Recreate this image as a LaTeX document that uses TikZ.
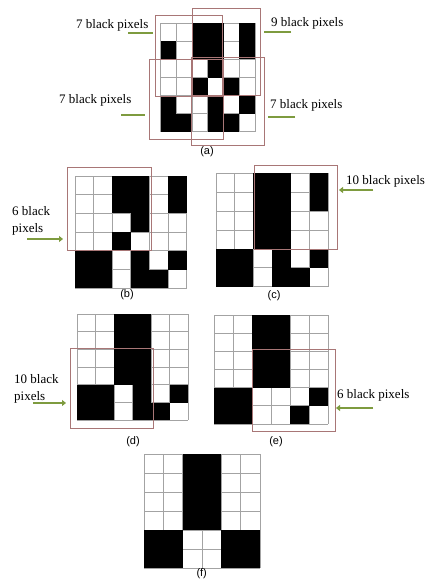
\documentclass[tikz,border=0pt]{standalone}
\usepackage{fontspec}
\setmainfont{Liberation Serif}
\newfontfamily\capfont{Liberation Sans}
\usetikzlibrary{arrows.meta}
\definecolor{gridgray}{HTML}{A3A3A3}
\definecolor{winred}{HTML}{A87676}
\definecolor{arrgreen}{HTML}{7E9B3F}
\newcommand\pixgrid[5]{%
  \foreach \i in {0,...,6}{
    \draw[gridline] ({#1+\i*#3},{#2}) -- ({#1+\i*#3},{#2+6*#4});
    \draw[gridline] ({#1},{#2+\i*#4}) -- ({#1+6*#3},{#2+\i*#4});
  }
  \foreach \c/\r in {#5}{
    \fill[black] ({#1+\c*#3},{#2+\r*#4}) rectangle ({#1+\c*#3+#3},{#2+\r*#4+#4});
  }
}
\begin{document}
\begin{tikzpicture}[x=1pt,y=-1pt,
  gridline/.style={draw=gridgray,line width=0.8pt},
  window/.style={draw=winred,line width=0.7pt},
  lbl/.style={font=\fontsize{13}{16.7}\selectfont,inner sep=0pt,anchor=base west},
  lbltwo/.style={font=\fontsize{13}{16.7}\selectfont,inner sep=0pt,anchor=north west,align=left},
  captxt/.style={font=\capfont\fontsize{11}{13}\selectfont,inner sep=0pt},
  bar/.style={draw=arrgreen,line width=2.6pt},
  pointer/.style={draw=arrgreen,line width=2.6pt,-{Triangle[length=4pt,width=6pt]}}]
\useasboundingbox[fill=white] (0,0) rectangle (425,580);

% ---- (a)
\pixgrid{160.5}{23.3}{15.75}{18.07}{2/0,3/0,5/0,0/1,2/1,3/1,5/1,3/2,2/3,4/3,0/4,3/4,5/4,0/5,1/5,3/5,4/5}
\draw[window] (155,15) rectangle (222.7,96.7);
\draw[window] (192.7,8.3) rectangle (260,95);
\draw[window] (149.3,59.3) rectangle (223.3,139.3);
\draw[window] (191.7,57.3) rectangle (264,145.7);
\node[captxt] (capa) at (207,152) {(a)};
\node[lbl] (la1) at (76,28.3) {7 black pixels};
\node[lbl] (la2) at (59,104) {7 black pixels};
\node[lbl] (la3) at (271,26.7) {9 black pixels};
\node[lbl] (la4) at (270,108.3) {7 black pixels};
\coordinate (a1s) at (128,33); \coordinate (a1e) at (153,33);
\coordinate (a2s) at (121,115); \coordinate (a2e) at (145,115);
\coordinate (a3s) at (291,32); \coordinate (a3e) at (264,32);
\coordinate (a4s) at (295,117); \coordinate (a4e) at (268,117);
\draw[bar] (a1s) -- (a1e);
\draw[bar] (a2s) -- (a2e);
\draw[bar] (a3s) -- (a3e);
\draw[bar] (a4s) -- (a4e);

% ---- (b)
\pixgrid{75}{176}{18.6}{18.7}{2/0,3/0,5/0,2/1,3/1,5/1,3/2,2/3,0/4,1/4,3/4,5/4,0/5,1/5,3/5,4/5}
\draw[window] (67,167) rectangle (151,250.7);
\node[captxt] (capb) at (127,295) {(b)};
\node[lbltwo] (lb) at (12,206.1) {6 black\\pixels};
\coordinate (bs) at (27,239); \coordinate (be) at (63,239);
\draw[pointer] (bs) -- (be);

% ---- (c)
\pixgrid{216}{173.3}{18.7}{18.9}{2/0,3/0,5/0,2/1,3/1,5/1,2/2,3/2,2/3,3/3,0/4,1/4,3/4,5/4,0/5,1/5,3/5,4/5}
\draw[window] (254,165) rectangle (337,249.3);
\node[captxt] (capc) at (274,296) {(c)};
\node[lbl] (lc) at (346,184) {10 black pixels};
\coordinate (cs) at (373,190); \coordinate (ce) at (339,190);
\draw[pointer] (cs) -- (ce);

% ---- (d)
\pixgrid{77}{314}{18.5}{17.7}{2/0,3/0,2/1,3/1,2/2,3/2,2/3,3/3,0/4,1/4,3/4,5/4,0/5,1/5,3/5,4/5}
\draw[window] (70,348) rectangle (153,428);
\node[captxt] (capd) at (133,441.7) {(d)};
\node[lbltwo] (ld) at (14,374.4) {10 black\\pixels};
\coordinate (ds) at (33,403); \coordinate (de) at (66,403);
\draw[pointer] (ds) -- (de);

% ---- (e)
\pixgrid{214}{315.2}{19}{18.13}{2/0,3/0,2/1,3/1,2/2,3/2,2/3,3/3,0/4,1/4,5/4,0/5,1/5,4/5}
\draw[window] (252,349) rectangle (335,431);
\node[captxt] (cape) at (276,441.7) {(e)};
\node[lbl] (le) at (337,398.3) {6 black pixels};
\coordinate (es) at (373,408); \coordinate (ee) at (336,408);
\draw[pointer] (es) -- (ee);

% ---- (f)
\pixgrid{144}{454.3}{19.33}{19}{2/0,3/0,2/1,3/1,2/2,3/2,2/3,3/3,0/4,1/4,4/4,5/4,0/5,1/5,4/5,5/5}
\node[captxt] (capf) at (201.7,573.5) {(f)};
\end{tikzpicture}
\end{document}
